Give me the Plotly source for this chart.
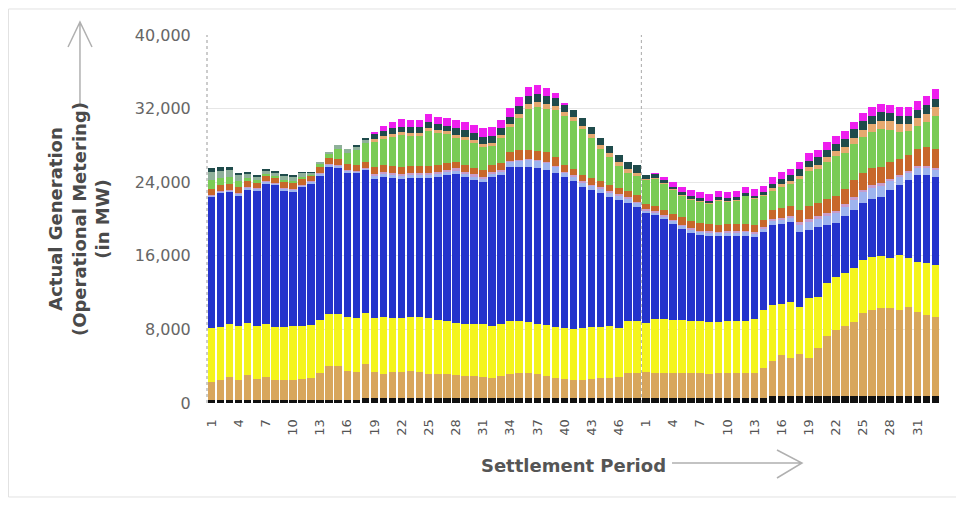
import plotly.graph_objects as go

# ---------------- data ----------------
day1_periods = ["1","2","3","4","5","6","7","8","9","10","11","12","13","14","15","16","17","18","19","20",
                "21","22","23","24","25","26","27","28","29","30","31","32","33","34","35","36","37","38","39","40",
                "41","42","43","44","45","46","47","48"]
day2_periods = ["1","2","3","4","5","6","7","8","9","10","11","12","13","14","15","16","17","18","19","20",
                "21","22","23","24","25","26","27","28","29","30","31","32","33"]

tick_labels = ["1","4","7","10","13","16","19","22","25","28","31","34","37","40","43","46",
               "1","4","7","10","13","16","19","22","25","28","31"]

black = [300,300,300,300,300,300,300,300,300,300,300,300,300,300,300,300,300,
         500,500,500,500,500,500,500,500,500,500,
         550,550,550,550,550,550,550,550,550,550,550,550,550,550,550,550,550,550,550,550,550,
         500,500,500,500,500,500,500,500,500,500,500,500,500,500,
         800,800,800,800,800,800,800,800,800,800,800,800,800,800,800,800,800,800,800]
tan = [1980,2200,2530,2200,2740,2310,2530,2200,2200,2200,2310,2420,2960,3720,3720,3180,3070,
       3740,2870,2700,2870,2900,2980,2840,2700,2650,2600,
       2450,2350,2350,2250,2150,2350,2650,2750,2750,2550,2350,2150,2050,1950,1950,2050,2150,2150,2250,2750,2750,
       2900,2800,2800,2800,2750,2750,2750,2700,2750,2750,2750,2750,2800,3300,
       3770,4400,4100,4500,4100,5180,6480,7130,7570,8000,8980,9300,9500,9500,9300,9630,9090,8770,8550]
yellow = [5870,5760,5760,5870,5660,5760,5760,5760,5760,5870,5760,5760,5760,5650,5650,5870,5870,5540,
          5870,6150,5870,5840,5870,5960,6040,5870,5800,5700,5700,5690,5790,5670,5690,5710,5610,5500,
          5490,5580,5560,5550,5540,5600,5660,5560,5670,5350,5610,5600,
          5300,5830,5830,5750,5750,5650,5650,5650,5600,5650,5650,5700,5830,6300,
          6080,5560,6080,5130,6500,5540,5760,5770,5760,5870,5760,5770,5680,5460,5990,5330,5440,5640,5650]
blue = [14250,14570,14350,14230,14560,14780,15310,15440,14890,14670,15110,15420,15760,16090,15980,15750,
        15760,15550,15110,15210,15210,15110,15100,15150,15210,15540,15900,16190,15960,15650,15430,16190,
        16190,16740,16740,16850,16950,16850,16740,16410,16090,15380,14890,14570,14030,13920,12830,12400,
        11950,11320,10870,10450,9900,9600,9350,9300,9250,9250,9250,9250,8920,8500,
        8700,8700,8690,8160,7400,7610,6310,5900,6170,6330,6160,6330,6420,7390,7610,8480,9450,9570,9560]
light_blue = [150,150,150,150,150,150,150,150,150,150,150,150,150,150,150,150,150,150,
              350,350,350,350,350,350,350,350,350,
              400,400,400,400,400,400,600,700,800,800,800,700,
              500,500,500,500,500,500,500,500,500,
              300,300,300,300,400,400,400,400,400,400,400,400,400,400,
              500,500,500,800,900,900,1000,1000,1000,1100,1200,1200,1200,1000,900,800,800,800,800]
mauve = [100,100,100,100,100,100,100,100,100,100,100,100,100,100,100,100,100,100,
         200,200,200,200,200,200,200,200,200,
         200,200,200,200,200,200,100,100,100,100,100,100,
         100,100,100,100,100,100,100,100,100,
         100,100,100,100,100,100,100,100,100,100,100,100,100,100,
         200,200,200,300,300,300,300,300,300,300,300,300,300,200,200,200,200,200,200]
brown = [600,600,600,600,600,600,600,600,600,600,600,600,600,600,600,600,600,600,
         750,750,750,750,750,750,750,750,750,
         700,700,700,700,700,700,900,1000,1000,1000,1000,900,
         700,700,700,700,700,700,700,700,700,
         600,600,600,600,800,800,800,800,800,800,800,800,800,800,
         900,1000,1000,1300,1400,1400,1500,1600,1700,1800,1800,1800,1800,1800,1700,1700,1800,2000,2100]
green = [950,770,760,650,340,200,150,150,250,260,270,50,370,490,1100,1250,1650,2120,
         2700,2840,3200,3500,3300,3300,3850,3540,3150,
         2610,2740,2710,2530,2090,2720,2700,3500,4400,4710,4720,5100,
         5340,5220,4970,4350,3470,3050,2380,1960,2050,
         2650,2950,2850,2700,2400,2350,2400,2250,2650,2500,2600,3000,2900,2700,
         2100,2340,2480,3310,3850,3670,4100,4300,3850,3950,3900,3950,4100,3550,2950,2610,2570,2770,3590]
peach = [0,0,0,0,0,0,0,0,0,0,0,0,0,0,0,0,0,0,
         300,300,300,300,300,300,300,300,300,
         350,350,350,350,350,350,400,500,600,600,600,500,
         400,400,400,400,400,400,400,400,400,
         100,100,100,100,100,100,100,100,100,100,100,100,100,100,
         300,300,300,400,400,500,500,600,700,700,800,900,900,900,900,800,800,900,900]
sage = [900,800,800,700,500,400,400,400,450,450,400,250,100,100,400,400,400,300,
        0,0,0,0,0,0,0,0,0,
        0,0,0,0,0,0,0,0,0,0,0,0,
        0,0,0,0,0,0,0,0,0,
        0,0,0,0,0,0,0,0,0,0,0,0,0,0,
        0,0,0,0,0,0,0,0,0,0,0,0,0,0,0,0,0,0,0]
teal = [400,450,300,200,150,100,100,100,100,100,100,50,0,0,0,0,100,200,
        600,600,600,600,600,600,600,600,600,
        700,700,700,700,700,700,700,800,800,800,800,800,
        800,800,800,800,800,800,800,800,800,
        400,400,300,200,200,200,200,200,200,200,200,200,200,200,
        500,600,600,700,700,800,800,800,900,900,900,900,900,900,900,900,900,900,900]
magenta = [0,0,0,0,0,0,0,0,0,0,0,0,0,0,0,0,0,0,
           200,500,700,800,800,800,900,800,800,
           900,900,900,1000,1000,900,1000,1000,1000,1000,900,600,
           200,0,0,0,0,0,0,0,0,
           0,100,300,500,600,700,700,700,700,700,700,700,700,700,
           700,700,700,800,800,800,800,800,800,800,900,900,900,900,900,900,1000,1000,1100]

series = [
    ("Other", black, "#111111"),
    ("Wind", tan, "#D8A65C"),
    ("Nuclear", yellow, "#F4F41C"),
    ("CCGT", blue, "#2433CC"),
    ("Series 5", light_blue, "#9EB4EE"),
    ("Series 6", mauve, "#C89CCB"),
    ("Series 7", brown, "#C8672B"),
    ("Coal", green, "#7ACB55"),
    ("Series 9", peach, "#E5A96F"),
    ("Series 10", sage, "#8FB09A"),
    ("Series 11", teal, "#1F4B4B"),
    ("Series 12", magenta, "#EE1EEE"),
]

# unique category keys, displayed with period numbers
cats = ["D1-" + p for p in day1_periods] + ["D2-" + p for p in day2_periods]
tick_keys = ["D1-" + t for t in tick_labels[:16]] + ["D2-" + t for t in tick_labels[16:]]

fig = go.Figure()
for name, vals, col in series:
    fig.add_trace(go.Bar(x=cats, y=vals, name=name, marker=dict(color=col, line=dict(width=0)),
                         showlegend=False))

FONT = "DejaVu Sans"
# page body has an 8px margin: figure occupies page (8,8)-(964,505)
fig.update_layout(
    width=956, height=497,
    barmode="stack", bargap=0.17,
    paper_bgcolor="white", plot_bgcolor="white",
    margin=dict(l=199, r=24, t=27, b=102, autoexpand=False),
    font=dict(family=FONT, color="#555555"),
)
fig.update_xaxes(
    type="category", categoryorder="array", categoryarray=cats,
    tickmode="array", tickvals=tick_keys, ticktext=tick_labels,
    tickangle=270, tickfont=dict(size=13, color="#555555", family=FONT),
    showgrid=False, showline=False, zeroline=False, ticks="outside", ticklen=10, tickcolor="rgba(0,0,0,0)",
    automargin=False,
    title=dict(text="<b>Settlement Period</b>", font=dict(size=18, color="#555555", family=FONT), standoff=24),
)
fig.update_yaxes(
    range=[0, 40000], tickvals=[0, 8000, 16000, 24000, 32000, 40000], tickformat=",",
    tickfont=dict(size=16, color="#666666", family=FONT),
    showgrid=True, gridcolor="#e6e6e6", gridwidth=1, zeroline=False, showline=False,
    ticks="outside", ticklen=12, tickcolor="rgba(0,0,0,0)", automargin=False,
    title=dict(text="<b>Actual Generation<br>(Operational Metering)<br>(in MW)</b>",
               font=dict(size=18, color="#4a4a4a", family=FONT), standoff=20),
)

shapes = []
# dashed left axis line
shapes.append(dict(type="line", xref="paper", yref="paper", x0=0, x1=0, y0=0, y1=1,
                   line=dict(color="#999999", width=1, dash="dot")))
# dashed day boundary
shapes.append(dict(type="line", xref="x", yref="paper", x0=47.5, x1=47.5, y0=0, y1=1,
                   line=dict(color="#aaaaaa", width=1, dash="dot")))
# y arrow
shapes.append(dict(type="path", xref="paper", yref="paper",
                   path="M -0.1733,0.8098 L -0.1733,1.0353 M -0.1896,0.9674 L -0.1733,1.0353 L -0.1569,0.9674",
                   line=dict(color="#b0b0b0", width=1.5)))
# x arrow
shapes.append(dict(type="path", xref="paper", yref="paper",
                   path="M 0.6344,-0.163 L 0.8117,-0.163 M 0.7776,-0.1277 L 0.8117,-0.163 L 0.7776,-0.2038",
                   line=dict(color="#b0b0b0", width=1.5)))
# outer frame
shapes.append(dict(type="rect", xref="paper", yref="paper", x0=-0.2708, x1=1.0273, y0=-0.2554, y1=1.0707,
                   line=dict(color="#e2e2e2", width=1), layer="below"))
fig.update_layout(shapes=shapes)

fig.write_html("out.html")
